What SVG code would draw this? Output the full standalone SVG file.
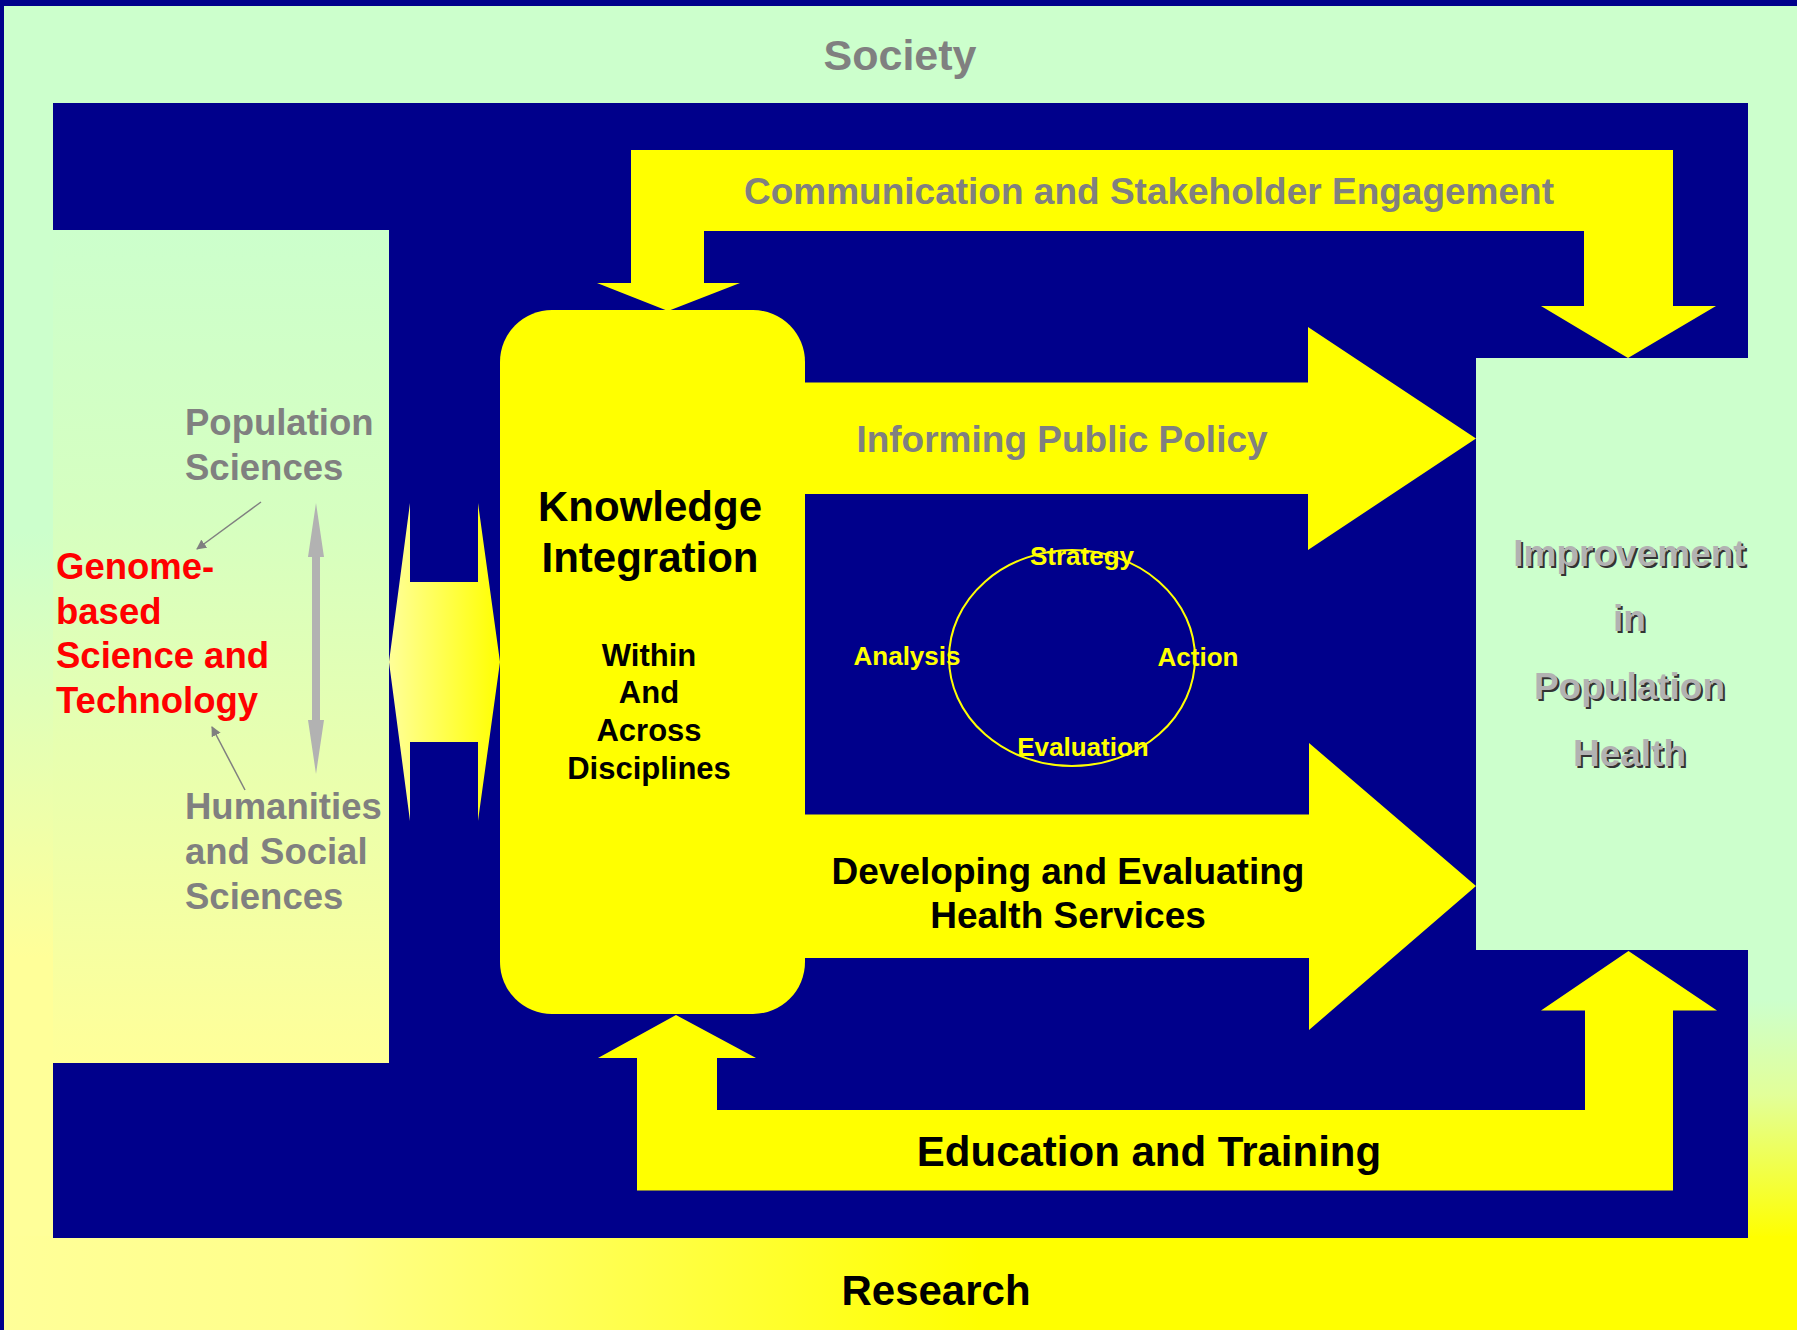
<svg xmlns="http://www.w3.org/2000/svg" width="1797" height="1330" viewBox="0 0 1797 1330">
<defs>
<linearGradient id="bgV" x1="0" y1="0" x2="0" y2="1330" gradientUnits="userSpaceOnUse">
<stop offset="0" stop-color="#CCFFCC"/><stop offset="0.4" stop-color="#CCFFCC"/><stop offset="0.72" stop-color="#FFFF99"/><stop offset="1" stop-color="#FFFF99"/>
</linearGradient>
<linearGradient id="bgBottom" x1="0" y1="0" x2="980" y2="0" gradientUnits="userSpaceOnUse">
<stop offset="0" stop-color="#FFFF99"/><stop offset="0.35" stop-color="#FFFF88"/><stop offset="1" stop-color="#FFFF00"/>
</linearGradient>
<linearGradient id="bgRight" x1="0" y1="1000" x2="0" y2="1238" gradientUnits="userSpaceOnUse">
<stop offset="0" stop-color="#CCFFCC"/><stop offset="0.4" stop-color="#E2FF99"/><stop offset="1" stop-color="#FFFF00"/>
</linearGradient>
<linearGradient id="leftBox" x1="0" y1="230" x2="0" y2="1063" gradientUnits="userSpaceOnUse">
<stop offset="0" stop-color="#CCFFCC"/><stop offset="0.35" stop-color="#D6FFC0"/><stop offset="1" stop-color="#FFFF99"/>
</linearGradient>
<linearGradient id="dbl" x1="389" y1="0" x2="500" y2="0" gradientUnits="userSpaceOnUse">
<stop offset="0" stop-color="#FFFF99"/><stop offset="1" stop-color="#FFFF00"/>
</linearGradient>
<marker id="gHead" markerWidth="10" markerHeight="10" refX="9" refY="5" orient="auto" markerUnits="userSpaceOnUse">
<path d="M0,0 L10,5 L0,10 Z" fill="#808080"/>
</marker>
<style>
text{font-family:"Liberation Sans",Arial,sans-serif;font-weight:bold;}
.gray{fill:#808080;}
.blk{fill:#000000;}
.red{fill:#FF0000;}
.ylw{fill:#FFFF00;}
.yshape{fill:#FFFF00;}
.navy{fill:#00008B;}
.imp{fill:#B2B2B2;}
.impS{fill:#333333;}
</style>
</defs>

<g id="background">
<rect x="0" y="0" width="1797" height="1330" fill="url(#bgV)"/>
<rect x="1740" y="0" width="57" height="1240" fill="url(#bgRight)"/>
<rect x="0" y="1236" width="1797" height="94" fill="url(#bgBottom)"/>
<rect x="0" y="0" width="1797" height="6" class="navy"/>
<rect x="0" y="0" width="4" height="1330" class="navy"/>
</g>

<g id="society">
<text x="900" y="70" font-size="43" text-anchor="middle" class="gray">Society</text>
</g>

<g id="research-frame">
<rect x="53" y="103" width="1695" height="1135" class="navy"/>
<text x="936" y="1305" font-size="42" text-anchor="middle" class="blk">Research</text>
</g>

<g id="disciplines">
<rect x="53" y="230" width="336" height="833" fill="url(#leftBox)"/>
<text x="185" y="435" font-size="36.5" class="gray">Population</text>
<text x="185" y="480" font-size="36.5" class="gray">Sciences</text>
<text x="56" y="579" font-size="36.5" class="red">Genome-</text>
<text x="56" y="624" font-size="36.5" class="red">based</text>
<text x="56" y="668" font-size="36.5" class="red">Science and</text>
<text x="56" y="713" font-size="36.5" class="red">Technology</text>
<text x="185" y="819" font-size="36.5" class="gray">Humanities</text>
<text x="185" y="864" font-size="36.5" class="gray">and Social</text>
<text x="185" y="909" font-size="36.5" class="gray">Sciences</text>
</g>

<g id="knowledge-integration">
<rect x="500" y="310" width="305" height="704" rx="52" ry="52" class="yshape"/>
<text x="650" y="521" font-size="42" text-anchor="middle" class="blk">Knowledge</text>
<text x="650" y="572" font-size="42" text-anchor="middle" class="blk">Integration</text>
<text x="649" y="666" font-size="31" text-anchor="middle" class="blk">Within</text>
<text x="649" y="703" font-size="31" text-anchor="middle" class="blk">And</text>
<text x="649" y="741" font-size="31" text-anchor="middle" class="blk">Across</text>
<text x="649" y="779" font-size="31" text-anchor="middle" class="blk">Disciplines</text>
</g>

<g id="improvement">
<rect x="1476" y="358" width="272" height="592" fill="#CCFFCC"/>
<g font-size="37" text-anchor="middle">
<text x="1631.5" y="567.5" class="impS">Improvement</text>
<text x="1631.5" y="633" class="impS">in</text>
<text x="1631.5" y="700.5" class="impS">Population</text>
<text x="1631.5" y="767.5" class="impS">Health</text>
<text x="1629.5" y="565.5" class="imp">Improvement</text>
<text x="1629.5" y="631" class="imp">in</text>
<text x="1629.5" y="698.5" class="imp">Population</text>
<text x="1629.5" y="765.5" class="imp">Health</text>
</g>
</g>

<g id="cycle">
<ellipse cx="1072" cy="658" rx="123" ry="108" fill="none" stroke="#FFFF00" stroke-width="2"/>
<text x="1082" y="565" font-size="26" text-anchor="middle" class="ylw">Strategy</text>
<text x="1198" y="666" font-size="26" text-anchor="middle" class="ylw">Action</text>
<text x="1083" y="756" font-size="26" text-anchor="middle" class="ylw">Evaluation</text>
<text x="907" y="665" font-size="26" text-anchor="middle" class="ylw">Analysis</text>
</g>

<g id="connectors">
<g id="comm-arrow">
<polygon class="yshape" points="597,283 668,311 740,283 704,283 704,231 1584,231 1584,306 1541,306 1628,358 1716,306 1673,306 1673,150 631,150 631,283"/>
<text x="1149" y="204" font-size="37" text-anchor="middle" class="gray">Communication and Stakeholder Engagement</text>
</g>
<g id="policy-arrow">
<polygon class="yshape" points="800,382.5 1308,382.5 1308,327 1476,438.5 1308,550 1308,494 800,494"/>
<text x="1062" y="452" font-size="37" text-anchor="middle" class="gray">Informing Public Policy</text>
</g>
<g id="services-arrow">
<polygon class="yshape" points="800,814.5 1309,814.5 1309,743 1476,886 1309,1030 1309,958 800,958"/>
<text x="1068" y="883.5" font-size="37" text-anchor="middle" class="blk">Developing and Evaluating</text>
<text x="1068" y="927.5" font-size="37" text-anchor="middle" class="blk">Health Services</text>
</g>
<g id="education-arrow">
<polygon class="yshape" points="598,1058 676,1015 756,1058 717,1058 717,1110 1585,1110 1585,1010.5 1541,1010.5 1628.5,951 1717,1010.5 1673,1010.5 1673,1190.5 637,1190.5 637,1058"/>
<text x="1149" y="1166" font-size="42" text-anchor="middle" class="blk">Education and Training</text>
</g>
<polygon id="exchange-arrow" fill="url(#dbl)" points="389,662 410,503 410,582 478,582 478,503 500,662 478,821 478,742 410,742 410,821"/>
<polygon id="gray-double-arrow" fill="#B2B2B2" points="316,503 324,557 320,557 320,720 324,720 316,774 308,720 312,720 312,557 308,557"/>
<line x1="261" y1="502" x2="197" y2="549" stroke="#808080" stroke-width="1.5" marker-end="url(#gHead)"/>
<line x1="245" y1="790" x2="212" y2="727" stroke="#808080" stroke-width="1.5" marker-end="url(#gHead)"/>
</g>
</svg>
